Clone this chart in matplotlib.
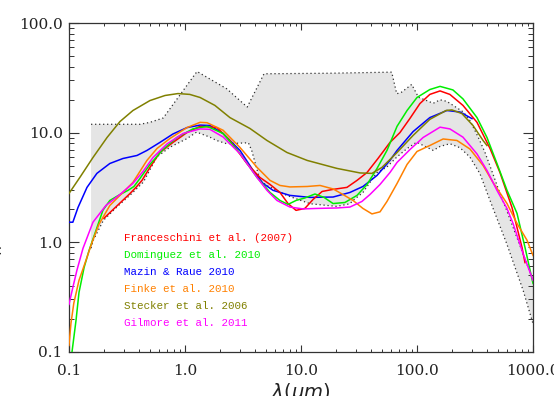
import numpy as np
import matplotlib
matplotlib.use("Agg")
import matplotlib.pyplot as plt
from matplotlib.ticker import FixedLocator, FixedFormatter, LogLocator, NullFormatter

# ---------------- data (wavelength in micron, intensity) ----------------
band_upper_lam = [0.155, 0.41, 0.5, 0.65, 1.27, 2.29, 3.44, 4.8, 17.8, 60.5, 66.9, 73.8, 90, 103, 121,
                  138, 158, 180, 205, 251, 286, 337, 385, 440, 520, 593, 1000]
band_upper_val = [11.9, 11.9, 12.4, 13.6, 36.1, 25.1, 17.1, 34.4, 34.8, 35.6, 22.6, 23.4, 27.5, 21.0, 19.6,
                  18.5, 19.9, 19.3, 17.7, 15.4, 12.9, 9.08, 6.62, 4.51, 2.77, 1.95, 0.45]
band_lower_lam = [0.155, 0.162, 0.198, 0.258, 0.347, 0.438, 0.57, 0.743, 1.035, 1.26, 1.64, 1.87, 2.29,
                  3.52, 3.76, 4.43, 5.06, 7.53, 12.0, 20.3, 26.4, 28.1, 34.2, 45.0, 54.8, 66.9, 81.5,
                  99.3, 121, 138, 158, 192, 235, 286, 349, 426, 593, 824, 1000]
band_lower_val = [0.88, 1.04, 1.58, 2.09, 2.77, 3.53, 5.97, 7.36, 8.78, 10.1, 9.08, 8.47, 7.91,
                  8.07, 6.87, 3.66, 3.29, 2.67, 2.24, 2.12, 2.24, 2.40, 2.84, 4.3, 4.83, 5.97, 7.11,
                  8.17, 7.36, 6.87, 7.47, 7.91, 7.27, 5.97, 4.21, 2.4, 0.97, 0.36, 0.18]

franceschini_lam = [0.200, 0.336, 0.378, 0.426, 0.499, 0.608, 0.788, 1.04, 1.35, 1.89, 2.44, 3.42, 4.43,
                    5.41, 6.59, 7.73, 9.06, 10.8, 12.7, 15.2, 18.9, 24.9, 30.4, 37.1, 46.1, 58.5, 71.3,
                    87.1, 106, 129, 158, 192, 249, 329, 426, 519, 659, 804, 853]
franceschini_val = [1.65, 2.78, 3.16, 3.66, 4.81, 6.58, 8.13, 10.0, 11.4, 11.1, 8.47, 5.22, 3.89,
                    3.36, 2.84, 2.25, 1.95, 2.03, 2.45, 2.90, 3.03, 3.16, 3.66, 4.32, 5.80, 8.13, 10.0,
                    13.5, 18.4, 22.3, 24.0, 22.3, 17.7, 12.4, 7.16, 4.32, 2.07, 0.895, 0.65]

dominguez_lam = [0.106, 0.115, 0.122, 0.135, 0.149, 0.171, 0.196, 0.225, 0.275, 0.323, 0.363, 0.409,
                 0.499, 0.646, 0.853, 1.17, 1.55, 2.13, 2.98, 4.18, 5.41, 6.59, 7.73, 9.06, 10.8, 13.2,
                 15.8, 18.9, 23.9, 30.4, 37.1, 45.2, 55.1, 67.3, 82.1, 100, 129, 158, 204, 249, 329,
                 401, 489, 597, 728, 853, 1000]
dominguez_val = [0.098, 0.193, 0.347, 0.587, 0.84, 1.28, 1.95, 2.40, 2.72, 2.97, 3.22, 3.81,
                 5.12, 7.01, 9.02, 10.8, 11.4, 9.81, 6.45, 3.89, 2.84, 2.40, 2.21, 2.40, 2.53, 2.75,
                 2.56, 2.25, 2.30, 2.67, 3.36, 4.70, 6.87, 11.4, 15.9, 20.9, 24.7, 26.4, 24.5, 20.3, 13.7,
                 9.02, 5.22, 2.97, 1.83, 0.895, 0.42]

mazin_lam = [0.1, 0.108, 0.1196, 0.143, 0.174, 0.225, 0.292, 0.386, 0.470, 0.608, 0.788, 1.04, 1.35,
             1.64, 2.13, 2.98, 3.86, 4.70, 5.74, 8.03, 11.97, 18.9, 26.4, 34.2, 45.2, 58.5, 67.3,
             92.5, 129, 181, 235, 298]
mazin_val = [1.52, 1.52, 2.07, 3.16, 4.24, 5.22, 5.80, 6.18, 6.87, 8.13, 9.71, 11.1, 11.7,
             11.6, 9.81, 6.87, 4.52, 3.44, 2.97, 2.67, 2.56, 2.58, 2.84, 3.22, 4.06, 5.57, 6.87,
             10.2, 13.7, 15.9, 15.4, 13.4]

finke_lam = [0.1, 0.104, 0.110, 0.122, 0.140, 0.158, 0.181, 0.225, 0.275, 0.356, 0.470, 0.574, 0.743,
             1.04, 1.35, 1.55, 2.13, 2.98, 4.18, 5.41, 6.59, 8.03, 11.3, 14.6, 18.9, 23.0, 28.1, 34.2,
             40.9, 48.0, 55.1, 67.3, 82.1, 100, 129, 168, 221, 286, 371, 452, 597, 728, 888, 1000]
finke_val = [0.114, 0.181, 0.276, 0.448, 0.680, 0.994, 1.45, 2.16, 2.67, 3.51, 5.57, 7.16, 8.84,
             11.1, 12.4, 12.3, 10.5, 7.31, 4.81, 3.66, 3.29, 3.19, 3.22, 3.29, 3.06, 2.72, 2.40, 2.03,
             1.81, 1.89, 2.35, 3.43, 5.12, 6.72, 7.62, 8.74, 8.47, 7.08, 5.01, 3.51, 2.25, 1.48, 1.04, 0.756]

stecker_lam = [0.1, 0.124, 0.161, 0.213, 0.275, 0.356, 0.499, 0.673, 0.871, 1.10, 1.35, 1.81, 2.44,
               3.63, 5.09, 7.57, 11.3, 20.4, 32.3, 40.9, 49.9, 67.3, 92.5, 129, 178, 200, 244, 304,
               371, 401]
stecker_val = [2.78, 3.89, 5.92, 9.02, 12.6, 15.9, 19.6, 21.8, 22.7, 22.3, 20.9, 17.7, 13.7,
               10.9, 8.47, 6.58, 5.57, 4.71, 4.28, 4.24, 4.81, 6.58, 9.41, 13.2, 15.9, 16.1, 14.9, 11.6,
               8.47, 7.62]

gilmore_lam = [0.1, 0.108, 0.117, 0.132, 0.161, 0.208, 0.275, 0.356, 0.435, 0.530, 0.700, 0.962, 1.35,
               1.64, 2.13, 2.98, 4.18, 5.09, 6.21, 8.03, 10.4, 13.7, 20.4, 26.4, 33.5, 39.3, 48.0, 58.5,
               67.3, 87.1, 113, 158, 192, 249, 329, 401, 489, 597, 673, 820, 1000]
gilmore_val = [0.270, 0.386, 0.552, 0.876, 1.52, 2.16, 2.72, 3.44, 4.42, 5.92, 7.87, 9.81, 10.8,
               10.7, 9.12, 6.41, 3.89, 2.97, 2.40, 2.09, 2.01, 2.03, 2.05, 2.09, 2.35, 2.72, 3.36, 4.32,
               5.34, 7.01, 9.02, 11.2, 10.8, 9.08, 6.38, 4.51, 2.97, 2.03, 1.48, 0.789, 0.448]

legend_labels = ["Franceschini et al. (2007)", "Dominguez et al. 2010", "Mazin & Raue 2010",
                 "Finke et al. 2010", "Stecker et al. 2006", "Gilmore et al. 2011"]
legend_colors = ["#ff0000", "#00ee00", "#0000ff", "#ff8000", "#808000", "#ff00ff"]

x_ticks = [0.1, 1, 10, 100, 1000]
x_tick_labels = ["0.1", "1.0", "10.0", "100.0", "1000.0"]
y_ticks = [0.1, 1, 10, 100]
y_tick_labels = ["0.1", "1.0", "10.0", "100.0"]

# ---------------- figure ----------------
fig = plt.figure(figsize=(5.54, 3.96), dpi=100)
ax = fig.add_axes([0.1245, 0.1119, 0.8376, 0.8300])
ax.set_xscale("log")
ax.set_yscale("log")
ax.set_xlim(0.1, 1000)
ax.set_ylim(0.1, 100)

# band
poly_x = list(band_upper_lam) + list(band_lower_lam[::-1])
poly_y = list(band_upper_val) + list(band_lower_val[::-1])
ax.fill(poly_x, poly_y, color="#e5e5e5", lw=0, zorder=1)
ax.plot(band_upper_lam, band_upper_val, color="#303030", lw=0.9, ls=(0, (1, 2.2)), zorder=2)
ax.plot(band_lower_lam, band_lower_val, color="#303030", lw=0.9, ls=(0, (1, 2.2)), zorder=2)

series = [
    (mazin_lam, mazin_val, legend_colors[2]),
    (franceschini_lam, franceschini_val, legend_colors[0]),
    (dominguez_lam, dominguez_val, legend_colors[1]),
    (finke_lam, finke_val, legend_colors[3]),
    (gilmore_lam, gilmore_val, legend_colors[5]),
    (stecker_lam, stecker_val, legend_colors[4]),
]
for lam, val, c in series:
    ax.plot(lam, val, color=c, lw=1.1, zorder=3, solid_joinstyle="round")

# axes styling
for s in ax.spines.values():
    s.set_color("#333333")
    s.set_linewidth(0.9)

ax.xaxis.set_major_locator(FixedLocator(x_ticks))
ax.xaxis.set_major_formatter(FixedFormatter(x_tick_labels))
ax.yaxis.set_major_locator(FixedLocator(y_ticks))
ax.yaxis.set_major_formatter(FixedFormatter(y_tick_labels))
ax.xaxis.set_minor_locator(LogLocator(base=10, subs=np.arange(2, 10), numticks=30))
ax.yaxis.set_minor_locator(LogLocator(base=10, subs=np.arange(2, 10), numticks=30))
ax.xaxis.set_minor_formatter(NullFormatter())
ax.yaxis.set_minor_formatter(NullFormatter())

ax.tick_params(which="both", direction="in", top=True, right=True, color="#333333")
ax.tick_params(axis="x", which="major", length=4.8, width=0.8, pad=9, labelsize=11)
ax.tick_params(axis="x", which="minor", length=2.4, width=0.7)
ax.tick_params(axis="y", which="major", length=7.0, width=0.8, pad=4.5, labelsize=11)
ax.tick_params(axis="y", which="minor", length=3.5, width=0.7)
for lab in ax.get_xticklabels() + ax.get_yticklabels():
    lab.set_family("DejaVu Serif")
    lab.set_color("#222222")

ax.set_xlabel(r"$\lambda(\mu m)$", fontsize=14, labelpad=2, color="#222222")
fig.text(0.009, 0.53, r"$\lambda I_\lambda$ (nW m$^{-2}$ sr$^{-1}$)", rotation=90,
         ha="right", va="center", fontsize=14, color="#222222")

# legend as coloured text
for i, (lab, c) in enumerate(zip(legend_labels, legend_colors)):
    ax.text(0.1185, 0.345 - i * 0.0517, lab, transform=ax.transAxes, color=c,
            family="Liberation Mono", fontsize=7.8, va="center", ha="left", zorder=5)

fig.savefig("out.png", dpi=100)
